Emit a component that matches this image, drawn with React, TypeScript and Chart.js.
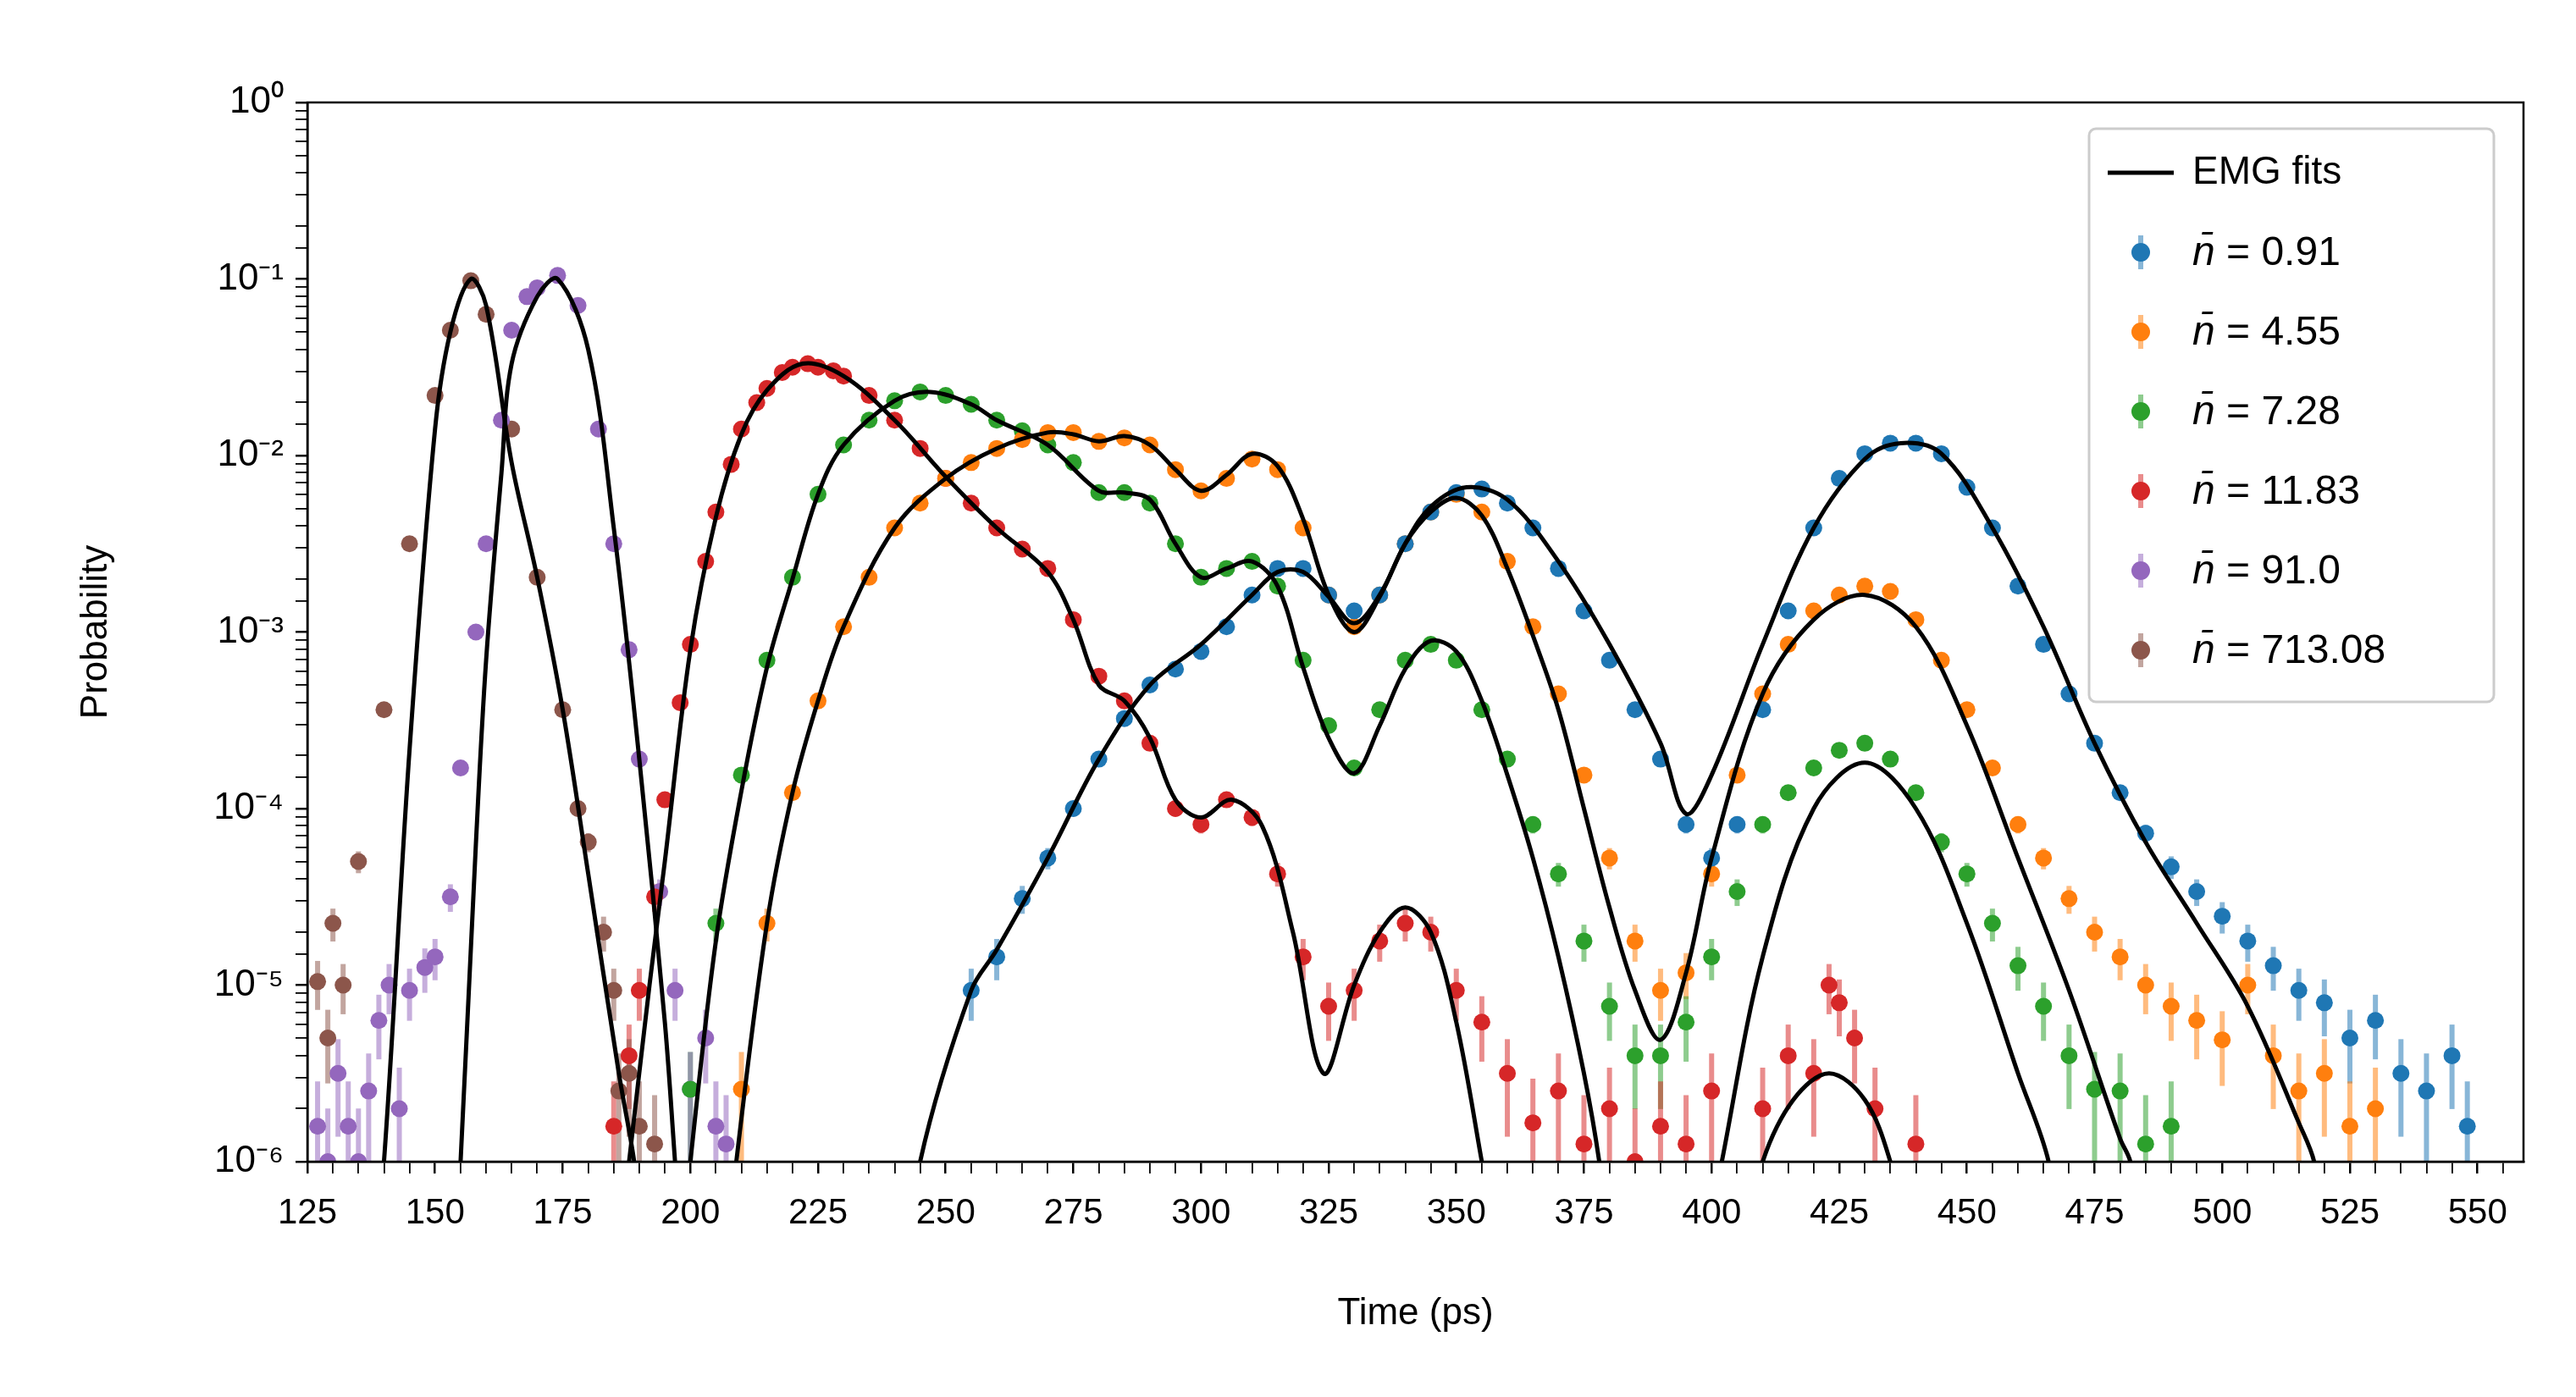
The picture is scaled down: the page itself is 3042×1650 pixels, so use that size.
import React, { useEffect, useRef } from "react";
import { Chart, registerables } from "chart.js";
Chart.register(...registerables);

// Data stored as log10(probability)
const brownX = [127,130,135,140,145,150,153,157,160,165,170,175,180,185,188,129,132,178,183,186,190,193];
const brownY = [-4.98,-4.65,-4.3,-3.44,-2.5,-1.66,-1.29,-1.01,-1.2,-1.85,-2.69,-3.44,-4.19,-5.03,-5.5,-5.3,-5.0,-4.0,-4.7,-5.6,-5.8,-5.9];
const brownFitX = [138,140,145,150,153,157,160,165,170,175,180,186,189,191];
const brownFitY = [-6.5,-6,-3.67,-1.85,-1.3,-1.0,-1.15,-2.04,-2.69,-3.44,-4.37,-5.5,-6,-6.5];

const purpleX = [127,129,131,133,135,137,139,141,143,145,148,150,153,155,158,160,163,165,168,170,174,178,182,185,188,190,194,197,200,203,205,207];
const purpleY = [-5.8,-6.0,-5.5,-5.8,-6,-5.6,-5.2,-5.0,-5.7,-5.03,-4.9,-4.84,-4.5,-3.77,-3.0,-2.5,-1.8,-1.29,-1.1,-1.05,-0.98,-1.15,-1.85,-2.5,-3.1,-3.72,-4.47,-5.03,-5.59,-5.3,-5.8,-5.9];
const purpleFitX = [153,155,158,160,163,165,170,174,180,185,190,195,197,199];
const purpleFitY = [-7,-6,-4.2,-3.16,-2.1,-1.48,-1.1,-1.0,-1.4,-2.41,-3.72,-5.21,-6,-6.8];

const redX = [185,188,190,193,195,198,200,203,205,208,210,213,215,218,220,223,225,228,230,235,240,245,250,255,260,265,270,275,280,285,290,295,300,305,310,315,320,325,330,335,340,345,350,355,360,365,370,375,380,385,390,395,400,410,415,420,423,425,428,432,440];
const redY = [-5.8,-5.4,-5.03,-4.5,-3.95,-3.4,-3.07,-2.6,-2.32,-2.05,-1.85,-1.7,-1.62,-1.53,-1.5,-1.48,-1.5,-1.52,-1.55,-1.66,-1.8,-1.96,-2.13,-2.27,-2.41,-2.53,-2.64,-2.93,-3.25,-3.39,-3.63,-4.0,-4.09,-3.95,-4.05,-4.37,-4.84,-5.12,-5.03,-4.75,-4.65,-4.7,-5.03,-5.21,-5.5,-5.78,-5.6,-5.9,-5.7,-6,-5.8,-5.9,-5.6,-5.7,-5.4,-5.5,-5.0,-5.1,-5.3,-5.7,-5.9];
const redFitX = [186,188,192,195,200,205,210,215,222,230,240,250,260,270,275,280,285,290,295,300,306,312,318,324,330,335,340,345,350,355,358];
const redFitY = [-6.5,-6,-5.0,-4.3,-3.1,-2.35,-1.88,-1.63,-1.48,-1.55,-1.8,-2.12,-2.41,-2.66,-2.93,-3.3,-3.39,-3.6,-3.95,-4.05,-3.95,-4.1,-4.7,-5.5,-5.0,-4.7,-4.56,-4.7,-5.21,-6,-6.5];
const redFit2X = [405,410,416,423,430,435,440];
const redFit2Y = [-6.6,-6,-5.65,-5.5,-5.65,-6,-6.6];

const greenX = [200,205,210,215,220,225,230,235,240,245,250,255,260,265,270,275,280,285,290,295,300,305,310,315,320,325,330,335,340,345,350,355,360,365,370,375,380,385,390,395,400,405,410,415,420,425,430,435,440,445,450,455,460,465,470,475,480,485,490];
const greenY = [-5.59,-4.65,-3.81,-3.16,-2.69,-2.22,-1.94,-1.8,-1.69,-1.64,-1.66,-1.71,-1.8,-1.86,-1.94,-2.04,-2.21,-2.21,-2.27,-2.5,-2.69,-2.64,-2.6,-2.74,-3.16,-3.53,-3.77,-3.44,-3.16,-3.07,-3.16,-3.44,-3.72,-4.09,-4.37,-4.75,-5.12,-5.4,-5.4,-5.21,-4.84,-4.47,-4.09,-3.91,-3.77,-3.67,-3.63,-3.72,-3.91,-4.19,-4.37,-4.65,-4.89,-5.12,-5.4,-5.59,-5.6,-5.9,-5.8];
const greenFitX = [198,200,205,210,215,220,225,230,240,247,255,260,270,280,285,290,295,300,305,310,315,320,325,330,335,340,345,350,355,360,365,370,375,378,380];
const greenFitY = [-6.6,-6,-4.75,-3.9,-3.2,-2.7,-2.22,-1.94,-1.69,-1.64,-1.71,-1.8,-1.94,-2.2,-2.21,-2.25,-2.5,-2.69,-2.64,-2.6,-2.74,-3.2,-3.6,-3.8,-3.53,-3.21,-3.05,-3.11,-3.39,-3.81,-4.28,-4.84,-5.5,-6,-6.5];
const greenFit2X = [398,402,410,420,430,440,450,460,466,469];
const greenFit2Y = [-6.6,-6,-4.84,-4.0,-3.74,-4.0,-4.65,-5.5,-6,-6.6];

const orangeX = [210,215,220,225,230,235,240,245,250,255,260,265,270,275,280,285,290,295,300,305,310,315,320,325,330,335,340,345,350,355,360,365,370,375,380,385,390,395,400,405,410,415,420,425,430,435,440,445,450,455,460,465,470,475,480,485,490,495,500,505,510,515,520,525,530];
const orangeY = [-5.59,-4.65,-3.91,-3.39,-2.97,-2.69,-2.41,-2.27,-2.13,-2.04,-1.96,-1.91,-1.87,-1.87,-1.92,-1.9,-1.94,-2.08,-2.2,-2.13,-2.02,-2.08,-2.41,-2.79,-2.97,-2.79,-2.5,-2.32,-2.22,-2.32,-2.6,-2.97,-3.35,-3.81,-4.28,-4.75,-5.03,-4.93,-4.37,-3.81,-3.35,-3.07,-2.88,-2.79,-2.74,-2.77,-2.93,-3.16,-3.44,-3.77,-4.09,-4.28,-4.51,-4.7,-4.84,-5.0,-5.12,-5.2,-5.31,-5.0,-5.4,-5.6,-5.5,-5.8,-5.7];
const orangeFitX = [207,209,215,220,225,230,240,250,260,270,275,280,285,290,295,300,305,310,315,320,325,330,335,340,345,350,355,360,365,370,375,380,385,390,395,400,410,420,430,440,450,460,470,480,482,485];
const orangeFitY = [-6.6,-6,-4.65,-3.91,-3.39,-2.97,-2.41,-2.13,-1.96,-1.87,-1.88,-1.92,-1.89,-1.94,-2.08,-2.2,-2.11,-1.99,-2.06,-2.36,-2.79,-3.0,-2.8,-2.5,-2.32,-2.24,-2.34,-2.64,-3.02,-3.44,-4.0,-4.56,-5.03,-5.31,-4.93,-4.28,-3.35,-2.93,-2.79,-2.97,-3.53,-4.28,-5.03,-5.87,-6,-6.5];

const blueX = [255,260,265,270,275,280,285,290,295,300,305,310,315,320,325,330,335,340,345,350,355,360,365,370,375,380,385,390,395,400,405,410,415,420,425,430,435,440,445,450,455,460,465,470,475,480,485,490,495,500,505,510,515,520,525,530,535,540,545,548];
const blueY = [-5.03,-4.84,-4.51,-4.28,-4.0,-3.72,-3.49,-3.3,-3.21,-3.11,-2.97,-2.79,-2.64,-2.64,-2.79,-2.88,-2.79,-2.5,-2.32,-2.21,-2.19,-2.27,-2.41,-2.64,-2.88,-3.16,-3.44,-3.72,-4.09,-4.28,-4.09,-3.44,-2.88,-2.41,-2.13,-1.99,-1.93,-1.93,-1.99,-2.18,-2.41,-2.74,-3.07,-3.35,-3.63,-3.91,-4.14,-4.33,-4.47,-4.61,-4.75,-4.89,-5.03,-5.1,-5.3,-5.2,-5.5,-5.6,-5.4,-5.8];
const blueFitX = [243,245,255,260,270,280,290,300,310,315,320,325,330,335,340,345,352,360,370,380,390,395,400,410,420,430,437,445,455,465,475,485,495,505,515,518,521];
const blueFitY = [-6.6,-6,-5.03,-4.8,-4.28,-3.72,-3.3,-3.07,-2.79,-2.66,-2.66,-2.8,-2.95,-2.79,-2.5,-2.29,-2.18,-2.25,-2.6,-3.07,-3.63,-4.03,-3.81,-3.07,-2.41,-2.02,-1.93,-1.99,-2.41,-2.97,-3.63,-4.19,-4.65,-5.12,-5.78,-6,-6.5];

const legendLabels = ["0.91", "4.55", "7.28", "11.83", "91.0", "713.08"];
const colors = ["#1f77b4", "#ff7f0e", "#2ca02c", "#d62728", "#9467bd", "#8c564b"];
const xTicksMajor = [125,150,175,200,225,250,275,300,325,350,375,400,425,450,475,500,525,550];

const pts = (xs: number[], ys: number[]) => xs.map((x, i) => ({ x, y: Math.pow(10, ys[i]) }));
const sup: Record<string, string> = { "-": "⁻", "0": "⁰", "1": "¹", "2": "²", "3": "³", "4": "⁴", "5": "⁵", "6": "⁶" };
const FONT = "'Liberation Sans', Arial, sans-serif";

export default function App() {
  const ref = useRef<HTMLCanvasElement>(null);
  useEffect(() => {
    const series = [
      [blueX, blueY], [orangeX, orangeY], [greenX, greenY], [redX, redY], [purpleX, purpleY], [brownX, brownY],
    ];
    const fits = [
      [blueFitX, blueFitY], [orangeFitX, orangeFitY], [greenFitX, greenFitY], [greenFit2X, greenFit2Y],
      [redFitX, redFitY], [redFit2X, redFit2Y], [purpleFitX, purpleFitY], [brownFitX, brownFitY],
    ];
    const datasets: any[] = [];
    series.forEach(([xs, ys], i) => {
      datasets.push({
        type: "scatter", data: pts(xs, ys), backgroundColor: colors[i], borderColor: colors[i],
        pointRadius: 10, pointBorderWidth: 0, showLine: false, order: 2, isSeries: true,
      });
    });
    fits.forEach(([xs, ys]) => {
      datasets.push({
        type: "line", data: pts(xs, ys), borderColor: "#000", borderWidth: 5, pointRadius: 0,
        tension: 0.35, fill: false, order: 1,
      });
    });

    const errPlugin = {
      id: "err",
      beforeDatasetsDraw(chart: any) {
        const { ctx, chartArea: a, scales } = chart;
        ctx.save();
        ctx.beginPath(); ctx.rect(a.left, a.top, a.right - a.left, a.bottom - a.top); ctx.clip();
        ctx.lineWidth = 6;
        chart.data.datasets.forEach((ds: any) => {
          if (!ds.isSeries) return;
          ctx.strokeStyle = ds.borderColor + "88";
          ds.data.forEach((p: any) => {
            const e = Math.sqrt(p.y * 1e-6);
            const lo = Math.max(p.y - e, 1e-8);
            const x = scales.x.getPixelForValue(p.x);
            ctx.beginPath();
            ctx.moveTo(x, scales.y.getPixelForValue(lo));
            ctx.lineTo(x, scales.y.getPixelForValue(p.y + e));
            ctx.stroke();
          });
        });
        ctx.restore();
      },
    };
    const framePlugin = {
      id: "frame",
      afterDraw(chart: any) {
        const { ctx, chartArea: a } = chart;
        ctx.save();
        ctx.strokeStyle = "#000"; ctx.lineWidth = 2.5;
        ctx.strokeRect(a.left, a.top, a.right - a.left, a.bottom - a.top);
        const w = 478, rowH = 94;
        const bx = a.right - 35 - w, by = a.top + 31, h = 677;
        ctx.fillStyle = "rgba(255,255,255,0.85)";
        ctx.strokeStyle = "#ccc"; ctx.lineWidth = 3;
        ctx.beginPath();
        (ctx as any).roundRect(bx, by, w, h, 8);
        ctx.fill(); ctx.stroke();
        ctx.textBaseline = "middle";
        let y = by + 52;
        ctx.strokeStyle = "#000"; ctx.lineWidth = 5;
        ctx.beginPath(); ctx.moveTo(bx + 22, y); ctx.lineTo(bx + 100, y); ctx.stroke();
        ctx.fillStyle = "#000"; ctx.font = `46px ${FONT}`;
        ctx.fillText("EMG fits", bx + 122, y);
        legendLabels.forEach((lab, i) => {
          y += rowH;
          const cx = bx + 61;
          ctx.strokeStyle = colors[i] + "88"; ctx.lineWidth = 6;
          ctx.beginPath(); ctx.moveTo(cx, y - 20); ctx.lineTo(cx, y + 20); ctx.stroke();
          ctx.fillStyle = colors[i];
          ctx.beginPath(); ctx.arc(cx, y, 11, 0, Math.PI * 2); ctx.fill();
          ctx.fillStyle = "#000";
          ctx.font = `italic 48px ${FONT}`;
          ctx.fillText("n\u0304", bx + 122, y + 2);
          const nw = ctx.measureText("n\u0304").width;
          ctx.font = `48px ${FONT}`;
          ctx.fillText(" = " + lab, bx + 122 + nw, y + 2);
        });
        ctx.restore();
      },
    };

    const chart = new Chart(ref.current!, {
      type: "scatter",
      data: { datasets },
      plugins: [errPlugin, framePlugin],
      options: {
        animation: false, responsive: false, devicePixelRatio: 1,
        layout: { padding: { top: 113, right: 54, bottom: 60, left: 75 } },
        plugins: { legend: { display: false }, tooltip: { enabled: false } },
        scales: {
          x: {
            type: "linear", min: 125, max: 559,
            afterBuildTicks: (s: any) => {
              const t = [];
              for (let v = 125; v <= 555; v += 5) t.push({ value: v });
              s.ticks = t;
            },
            afterFit: (s: any) => { s.height = 210; },
            ticks: {
              autoSkip: false, maxRotation: 0, color: "#000", font: { family: FONT, size: 42 }, padding: 22,
              callback: (v: any) => (xTicksMajor.includes(Number(v)) ? String(v) : ""),
            },
            grid: {
              drawOnChartArea: false, drawTicks: true, tickLength: 14, color: "#000",
              lineWidth: (c: any) => (xTicksMajor.includes(c.tick?.value) ? 2.5 : 1.8),
            },
            border: { color: "#000", width: 2.5 },
            title: { display: true, text: "Time (ps)", color: "#000", font: { family: FONT, size: 44 }, padding: { top: 8 } },
          },
          y: {
            type: "logarithmic", min: 1e-6, max: 1,
            afterFit: (s: any) => { s.width = 280; },
            ticks: {
              autoSkip: false, color: "#000", font: { family: FONT, size: 44 }, padding: 14,
              callback: (v: any) => {
                const l = Math.log10(Number(v));
                if (Math.abs(l - Math.round(l)) > 1e-6) return "";
                return "10" + String(Math.round(l)).split("").map((c) => sup[c]).join("");
              },
            },
            grid: {
              drawOnChartArea: false, drawTicks: true, tickLength: 14, color: "#000",
              lineWidth: (c: any) => {
                const l = Math.log10(c.tick?.value);
                return Math.abs(l - Math.round(l)) < 1e-6 ? 2.5 : 1.8;
              },
            },
            border: { color: "#000", width: 2.5 },
            title: { display: true, text: "Probability", color: "#000", font: { family: FONT, size: 44 }, padding: { bottom: 10 } },
          },
        },
      } as any,
    });
    return () => chart.destroy();
  }, []);
  return (
    <div style={{ width: 3026, height: 1634 }}>
      <canvas ref={ref} width={3026} height={1634} style={{ width: 3026, height: 1634 }} />
    </div>
  );
}
